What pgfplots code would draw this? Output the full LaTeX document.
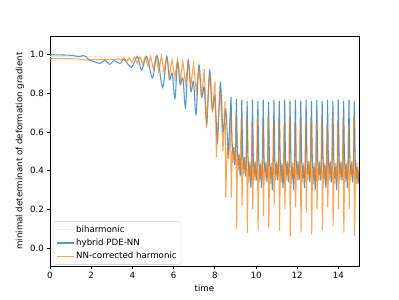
\documentclass[border=0pt]{standalone}
\usepackage{pgfplots}
\pgfplotsset{compat=1.18}
\usepackage{fontspec}
\setmainfont{DejaVu Sans}
\definecolor{mplblue}{HTML}{1F77B4}
\definecolor{mplorange}{HTML}{FF7F0E}
\begin{document}
\begin{tikzpicture}
\path[use as bounding box] (-57.6pt,-38pt) rectangle (403.2pt,307.6pt);
\begin{axis}[
 scale only axis, width=357.1pt, height=266.1pt,
 xmin=0, xmax=15, ymin=-0.095, ymax=1.097,
 xtick={0,2,4,6,8,10,12,14}, ytick={0,0.2,0.4,0.6,0.8,1.0},
 yticklabel style={/pgf/number format/.cd, fixed, fixed zerofill, precision=1},
 /pgf/number format/assume math mode=true,
 tick align=outside, tick pos=left, major tick length=3.5pt,
 every tick/.style={black, line width=0.8pt},
 axis line style={line width=0.8pt},
 ticklabel style={font=\fontsize{10}{12}\selectfont},
 xlabel={time}, ylabel={minimal determinant of deformation gradient},
 label style={font=\fontsize{10}{12}\selectfont},
 legend cell align=left,
 legend style={at={(0.011,0.008)}, anchor=south west, draw=black!20, rounded corners=2pt,
   fill=white, fill opacity=0.8, text opacity=1, font=\fontsize{10}{12}\selectfont,
   inner xsep=3pt, inner ysep=3pt, row sep=2pt},
 legend image code/.code={\draw[#1] (0pt,0pt) -- (20pt,0pt);},
]
\addplot[black!8, line width=1.2pt] coordinates {
(0,0.992)(1,0.991)(2,0.990)(3,0.989)(3.6,0.990)(4.0,0.985)(4.24,0.995)(4.45,0.96)(4.69,0.995)(4.98,0.93)(5.2,0.998)(5.47,0.90)(5.67,0.995)(6.07,0.85)(6.19,0.97)(6.58,0.80)(6.71,0.975)(7.09,0.76)(7.23,0.955)(7.61,0.70)(7.75,0.93)(8.13,0.60)(8.27,0.87)(8.53,0.55)(8.65,0.50)
(8.79,0.785)(8.85,0.52)(8.94,0.45)(9.00,0.49)
(9.05,0.775)(9.11,0.49)(9.20,0.41)(9.26,0.45)
(9.31,0.775)(9.37,0.46)(9.46,0.39)(9.52,0.43)
(9.57,0.775)(9.63,0.44)(9.72,0.37)(9.78,0.41)
(9.83,0.775)(9.89,0.44)(9.98,0.37)(10.04,0.41)
(10.09,0.775)(10.15,0.44)(10.24,0.37)(10.30,0.41)
(10.35,0.775)(10.41,0.44)(10.50,0.37)(10.56,0.41)
(10.61,0.775)(10.67,0.44)(10.76,0.37)(10.82,0.41)
(10.87,0.775)(10.93,0.44)(11.02,0.37)(11.08,0.41)
(11.13,0.775)(11.19,0.44)(11.28,0.37)(11.34,0.41)
(11.39,0.775)(11.45,0.44)(11.54,0.37)(11.60,0.41)
(11.65,0.775)(11.71,0.44)(11.80,0.37)(11.86,0.41)
(11.91,0.775)(11.97,0.44)(12.06,0.37)(12.12,0.41)
(12.17,0.775)(12.23,0.44)(12.32,0.37)(12.38,0.41)
(12.43,0.775)(12.49,0.44)(12.58,0.37)(12.64,0.41)
(12.69,0.775)(12.75,0.44)(12.84,0.37)(12.90,0.41)
(12.95,0.775)(13.01,0.44)(13.10,0.37)(13.16,0.41)
(13.21,0.775)(13.27,0.44)(13.36,0.37)(13.42,0.41)
(13.47,0.775)(13.53,0.44)(13.62,0.37)(13.68,0.41)
(13.73,0.775)(13.79,0.44)(13.88,0.37)(13.94,0.41)
(13.99,0.775)(14.05,0.44)(14.14,0.37)(14.20,0.41)
(14.25,0.775)(14.31,0.44)(14.40,0.37)(14.46,0.41)
(14.51,0.775)(14.57,0.44)(14.66,0.37)(14.72,0.41)
(14.77,0.775)(14.83,0.44)(14.92,0.37)(15.00,0.41)
};
\addlegendentry{biharmonic}
\addplot[mplblue, draw opacity=0.75, line width=1.2pt, smooth, forget plot] coordinates {
(0,1.000)(0.4,0.999)(0.8,0.998)(1.1,0.996)(1.3,0.992)(1.45,0.990)(1.6,0.996)(1.72,0.992)(1.85,0.978)(2.0,0.970)(2.2,0.962)(2.43,0.955)(2.67,0.971)(2.9,0.950)(3.1,0.970)(3.4,0.955)(3.6,0.975)(3.96,0.935)(4.24,0.990)(4.45,0.920)(4.69,0.990)(4.98,0.880)(5.2,0.995)(5.47,0.830)(5.67,0.990)(5.80,0.870)(5.93,0.905)(6.07,0.773)(6.19,0.960)(6.32,0.845)(6.45,0.880)(6.58,0.726)(6.71,0.972)(6.84,0.810)(6.97,0.860)(7.09,0.690)(7.23,0.946)(7.36,0.780)(7.49,0.830)(7.61,0.640)(7.75,0.917)(7.88,0.720)(8.01,0.780)(8.13,0.550)(8.27,0.850)(8.40,0.600)(8.53,0.720)(8.65,0.480)
};
\addplot[mplblue, draw opacity=0.75, line width=1.2pt] coordinates {
(8.65,0.480)
(8.79,0.780)(8.83,0.560)(8.88,0.480)(8.92,0.520)(8.97,0.430)(9.01,0.480)
(9.05,0.770)(9.09,0.520)(9.14,0.430)(9.18,0.480)(9.23,0.370)(9.27,0.450)
(9.31,0.765)(9.35,0.480)(9.40,0.410)(9.44,0.470)(9.49,0.370)(9.53,0.430)
(9.57,0.760)(9.61,0.470)(9.66,0.370)(9.70,0.430)(9.75,0.310)(9.79,0.400)
(9.83,0.765)(9.87,0.450)(9.92,0.380)(9.96,0.440)(10.01,0.350)(10.05,0.410)
(10.09,0.760)(10.13,0.460)(10.18,0.360)(10.22,0.430)(10.27,0.310)(10.31,0.400)
(10.35,0.765)(10.39,0.450)(10.44,0.390)(10.48,0.440)(10.53,0.340)(10.57,0.410)
(10.61,0.755)(10.65,0.460)(10.70,0.360)(10.74,0.420)(10.79,0.300)(10.83,0.400)
(10.87,0.765)(10.91,0.450)(10.96,0.380)(11.00,0.440)(11.05,0.350)(11.09,0.410)
(11.13,0.760)(11.17,0.460)(11.22,0.360)(11.26,0.430)(11.31,0.310)(11.35,0.400)
(11.39,0.765)(11.43,0.450)(11.48,0.380)(11.52,0.440)(11.57,0.340)(11.61,0.410)
(11.65,0.760)(11.69,0.460)(11.74,0.360)(11.78,0.420)(11.83,0.300)(11.87,0.400)
(11.91,0.765)(11.95,0.450)(12.00,0.380)(12.04,0.440)(12.09,0.350)(12.13,0.410)
(12.17,0.760)(12.21,0.460)(12.26,0.360)(12.30,0.430)(12.35,0.310)(12.39,0.400)
(12.43,0.765)(12.47,0.450)(12.52,0.380)(12.56,0.440)(12.61,0.340)(12.65,0.410)
(12.69,0.760)(12.73,0.460)(12.78,0.360)(12.82,0.420)(12.87,0.300)(12.91,0.400)
(12.95,0.765)(12.99,0.450)(13.04,0.380)(13.08,0.440)(13.13,0.350)(13.17,0.410)
(13.21,0.760)(13.25,0.460)(13.30,0.360)(13.34,0.430)(13.39,0.310)(13.43,0.400)
(13.47,0.765)(13.51,0.450)(13.56,0.380)(13.60,0.440)(13.65,0.340)(13.69,0.410)
(13.73,0.760)(13.77,0.460)(13.82,0.360)(13.86,0.420)(13.91,0.300)(13.95,0.400)
(13.99,0.765)(14.03,0.450)(14.08,0.380)(14.12,0.440)(14.17,0.350)(14.21,0.410)
(14.25,0.760)(14.29,0.460)(14.34,0.360)(14.38,0.430)(14.43,0.310)(14.47,0.400)
(14.51,0.765)(14.55,0.450)(14.60,0.380)(14.64,0.440)(14.69,0.340)(14.73,0.410)
(14.77,0.760)(14.81,0.460)(14.86,0.360)(14.90,0.420)(14.95,0.330)(15.00,0.400)
};
\addlegendentry{hybrid PDE-NN}
\addplot[mplorange, draw opacity=0.7, line width=1.2pt] coordinates {
(0,0.980)(0.5,0.980)(1.0,0.979)(1.4,0.978)(1.6,0.974)(1.8,0.972)(2.0,0.973)(2.3,0.975)(2.6,0.974)(2.9,0.977)(3.2,0.975)(3.33,0.980)(3.46,0.972)(3.59,0.985)(3.72,0.965)(3.85,0.982)(3.98,0.960)(4.11,0.988)(4.24,0.955)(4.37,0.990)(4.50,0.950)(4.63,0.988)(4.76,0.940)(4.89,0.992)(5.02,0.925)(5.15,0.990)(5.28,0.915)(5.41,0.995)(5.54,0.910)(5.67,0.985)(5.80,0.895)(5.93,0.975)(6.06,0.880)(6.19,0.975)(6.32,0.865)(6.45,0.965)(6.58,0.850)(6.71,0.960)(6.84,0.840)(6.97,0.955)(7.10,0.810)(7.23,0.935)(7.36,0.780)(7.49,0.925)(7.60,0.620)(7.66,0.760)(7.75,0.900)(7.88,0.700)(8.01,0.860)(8.08,0.470)(8.14,0.620)(8.27,0.820)(8.40,0.500)(8.50,0.760)(8.53,0.260)(8.60,0.520)(8.66,0.460)(8.72,0.530)
(8.76,0.700)(8.80,0.260)(8.84,0.500)(8.88,0.440)(8.92,0.520)(8.96,0.450)(9.00,0.500)
(9.02,0.690)(9.06,0.100)(9.10,0.460)(9.14,0.400)(9.18,0.490)(9.22,0.410)(9.26,0.460)
(9.28,0.670)(9.32,0.220)(9.36,0.440)(9.40,0.380)(9.44,0.470)(9.48,0.390)(9.52,0.450)
(9.54,0.680)(9.58,0.080)(9.62,0.410)(9.66,0.340)(9.70,0.450)(9.74,0.360)(9.78,0.420)
(9.80,0.650)(9.84,0.200)(9.88,0.410)(9.92,0.350)(9.96,0.450)(10.00,0.370)(10.04,0.430)
(10.06,0.670)(10.10,0.090)(10.14,0.400)(10.18,0.340)(10.22,0.440)(10.26,0.360)(10.30,0.420)
(10.32,0.640)(10.36,0.165)(10.40,0.410)(10.44,0.350)(10.48,0.450)(10.52,0.370)(10.56,0.430)
(10.58,0.680)(10.62,0.100)(10.66,0.400)(10.70,0.330)(10.74,0.440)(10.78,0.360)(10.82,0.420)
(10.84,0.650)(10.88,0.220)(10.92,0.410)(10.96,0.350)(11.00,0.450)(11.04,0.370)(11.08,0.430)
(11.10,0.670)(11.14,0.090)(11.18,0.400)(11.22,0.340)(11.26,0.440)(11.30,0.360)(11.34,0.420)
(11.36,0.640)(11.40,0.200)(11.44,0.410)(11.48,0.350)(11.52,0.450)(11.56,0.370)(11.60,0.430)
(11.62,0.680)(11.66,0.060)(11.70,0.400)(11.74,0.330)(11.78,0.440)(11.82,0.360)(11.86,0.420)
(11.88,0.650)(11.92,0.210)(11.96,0.410)(12.00,0.350)(12.04,0.450)(12.08,0.370)(12.12,0.430)
(12.14,0.670)(12.18,0.080)(12.22,0.400)(12.26,0.340)(12.30,0.440)(12.34,0.360)(12.38,0.420)
(12.40,0.640)(12.44,0.180)(12.48,0.410)(12.52,0.350)(12.56,0.450)(12.60,0.370)(12.64,0.430)
(12.66,0.680)(12.70,0.070)(12.74,0.400)(12.78,0.330)(12.82,0.440)(12.86,0.360)(12.90,0.420)
(12.92,0.650)(12.96,0.200)(13.00,0.410)(13.04,0.350)(13.08,0.450)(13.12,0.370)(13.16,0.430)
(13.18,0.670)(13.22,0.090)(13.26,0.400)(13.30,0.340)(13.34,0.440)(13.38,0.360)(13.42,0.420)
(13.44,0.640)(13.48,0.210)(13.52,0.410)(13.56,0.350)(13.60,0.450)(13.64,0.370)(13.68,0.430)
(13.70,0.680)(13.74,0.110)(13.78,0.400)(13.82,0.330)(13.86,0.440)(13.90,0.360)(13.94,0.420)
(13.96,0.650)(14.00,0.200)(14.04,0.410)(14.08,0.350)(14.12,0.450)(14.16,0.370)(14.20,0.430)
(14.22,0.670)(14.26,0.080)(14.30,0.400)(14.34,0.340)(14.38,0.440)(14.42,0.360)(14.46,0.420)
(14.48,0.640)(14.52,0.200)(14.56,0.410)(14.60,0.350)(14.64,0.450)(14.68,0.370)(14.72,0.430)
(14.74,0.680)(14.78,0.060)(14.82,0.400)(14.86,0.330)(14.90,0.440)(14.94,0.360)(15.00,0.420)
};
\addlegendentry{NN-corrected harmonic}
\end{axis}
\end{tikzpicture}
\end{document}
